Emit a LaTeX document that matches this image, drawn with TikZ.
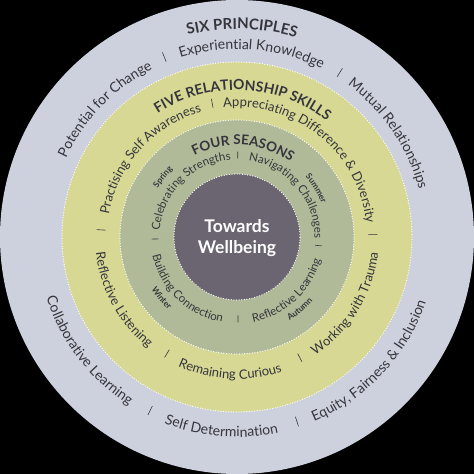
\documentclass[tikz,border=0pt]{standalone}
\usepackage{fontspec}
\setmainfont{Lato}
\usetikzlibrary{decorations.text}
\definecolor{outerc}{HTML}{CDD1DD}
\definecolor{yellowc}{HTML}{D6D894}
\definecolor{greenc}{HTML}{B0BA98}
\definecolor{centerc}{HTML}{6A6570}
\definecolor{txtc}{HTML}{36353C}
\newcommand\arcTop[5]{% center angle, baseline radius, half span, format, text
  \path[decorate,decoration={text along path,text align=center,text color=txtc,text={|#4|#5}}]
    ({#1+#3}:#2pt) arc[start angle={#1+#3},end angle={#1-#3},radius=#2pt];}
\newcommand\arcBot[5]{%
  \path[decorate,decoration={text along path,text align=center,text color=txtc,text={|#4|#5}}]
    ({#1-#3}:#2pt) arc[start angle={#1-#3},end angle={#1+#3},radius=#2pt];}
\newcommand\sepAt[3]{\draw[sepline] (#1:#2pt) -- (#1:#3pt);}
\tikzset{
  dotring/.style={draw=white,line width=1.3pt,line cap=round,dash pattern=on 0pt off 2.6pt},
  sepline/.style={draw=txtc,line width=0.6pt}
}
\begin{document}
\begin{tikzpicture}
\useasboundingbox (-237pt,-237pt) rectangle (237pt,237pt);
\fill[black] (-237pt,-237pt) rectangle (237pt,237pt);
\fill[outerc] (0,0) circle (237pt);
\fill[yellowc] (0,0) circle (175pt);
\draw[dotring] (0,0) circle (175pt);
\fill[greenc] (0,0) circle (117pt);
\draw[dotring] (0,0) circle (117pt);
\fill[centerc] (0,0) circle (63pt);
\draw[dotring] (0,0) circle (63pt);
\node[align=center,text=white,font=\fontsize{17.5}{21}\selectfont\bfseries] (centre) at (0,-1pt) {Towards\\Wellbeing};
% outer ring
\arcTop{88.6}{208}{60}{\fontsize{15}{17}\selectfont\bfseries}{SIX PRINCIPLES}
\arcTop{136}{188}{40}{\fontsize{14}{16}\selectfont}{Potential for Change}
\arcTop{85.4}{188}{40}{\fontsize{14}{16}\selectfont}{Experiential Knowledge}
\arcTop{34.3}{188}{40}{\fontsize{14}{16}\selectfont}{Mutual Relationships}
\arcBot{217.5}{200}{40}{\fontsize{14}{16}\selectfont}{Collaborative Learning}
\arcBot{265.3}{200}{40}{\fontsize{14}{16}\selectfont}{Self Determination}
\arcBot{316.8}{200}{40}{\fontsize{14}{16}\selectfont}{Equity, Fairness {\&} Inclusion}
\sepAt{112}{189}{199}
\sepAt{58}{189}{199}
\sepAt{243.4}{189}{199}
\sepAt{288}{189}{199}
% yellow ring
\arcTop{87.5}{147}{60}{\fontsize{14}{16}\selectfont\bfseries}{FIVE RELATIONSHIP SKILLS}
\arcTop{138}{130}{50}{\fontsize{13}{15}\selectfont}{Practising Self Awareness}
\arcTop{51}{130}{60}{\fontsize{13}{15}\selectfont}{Appreciating Difference {\&} Diversity}
\arcBot{208.8}{142}{40}{\fontsize{13}{15}\selectfont}{Reflective Listening}
\arcBot{267}{142}{40}{\fontsize{13}{15}\selectfont}{Remaining Curious}
\arcBot{328.5}{142}{40}{\fontsize{13}{15}\selectfont}{Working with Trauma}
\sepAt{100.5}{131.5}{140.5}
\sepAt{177}{131.5}{140.5}
\sepAt{1}{131.5}{140.5}
\sepAt{239}{131.5}{140.5}
\sepAt{297.5}{131.5}{140.5}
% green ring
\arcTop{86}{92}{50}{\fontsize{13.5}{15}\selectfont\bfseries}{FOUR SEASONS}
\arcTop{135}{77.5}{55}{\fontsize{11.5}{13}\selectfont}{Celebrating Strengths}
\arcTop{40}{77.5}{55}{\fontsize{11.5}{13}\selectfont}{Navigating Challenges}
\arcBot{226.3}{86.5}{55}{\fontsize{11.5}{13}\selectfont}{Building Connection}
\arcBot{312.8}{86.5}{55}{\fontsize{11.5}{13}\selectfont}{Reflective Learning}
\arcTop{141}{93}{20}{\fontsize{8.5}{9}\selectfont\bfseries}{Spring}
\arcTop{31.5}{91}{20}{\fontsize{8.5}{9}\selectfont\bfseries}{Summer}
\arcBot{219}{100}{20}{\fontsize{8.5}{9}\selectfont\bfseries}{Winter}
\arcBot{311}{99}{20}{\fontsize{8.5}{9}\selectfont\bfseries}{Autumn}
\sepAt{89.5}{78.5}{85.5}
\sepAt{181.4}{78.5}{85.5}
\sepAt{-6}{78.5}{85.5}
\sepAt{270.7}{78.5}{85.5}
\end{tikzpicture}
\end{document}
